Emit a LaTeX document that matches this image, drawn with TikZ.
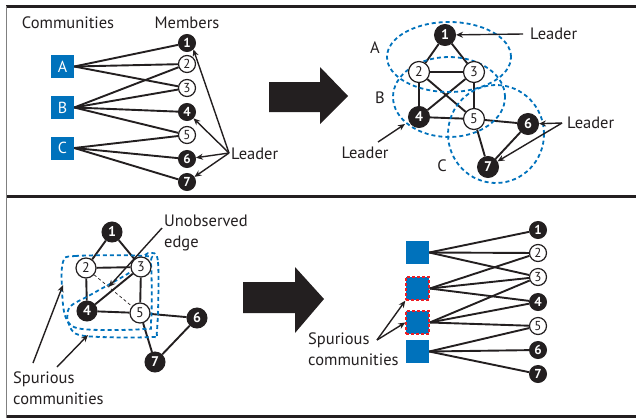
\documentclass[tikz,border=0pt]{standalone}
\usepackage{fontspec}
\setmainfont{PT Sans}
\usetikzlibrary{arrows.meta,calc}
\pgfdeclarelayer{bglayer}
\pgfsetlayers{bglayer,main}
\definecolor{ink}{HTML}{231F20}
\definecolor{cblue}{HTML}{0072BC}
\definecolor{cred}{HTML}{ED1C24}
\begin{document}
\begin{tikzpicture}[x=1pt,y=-1pt,
  lbl/.style={font=\fontsize{16.5}{21}\selectfont, text=ink, inner sep=0pt},
  comm/.style={rectangle, fill=cblue, minimum size=23pt, inner sep=0pt, text=white, font=\fontsize{16}{16}\selectfont},
  spur/.style={comm, draw=cred, line width=1.4pt, dash pattern=on 3pt off 2pt},
  blk/.style={circle, fill=ink, draw=ink, line width=1pt, inner sep=0pt, text=white, font=\bfseries\fontsize{13}{13}\selectfont},
  wht/.style={circle, fill=white, draw=ink, line width=1.2pt, inner sep=0pt, text=ink, font=\fontsize{13}{13}\selectfont},
  smallc/.style={minimum size=17pt},
  bigc/.style={minimum size=21pt, font=\fontsize{14}{14}\selectfont},
  bigcb/.style={minimum size=21pt, font=\bfseries\fontsize{14}{14}\selectfont},
  ln/.style={draw=ink, line width=1.9pt},
  arr/.style={draw=ink, line width=1.4pt, -{Stealth[length=7pt,width=6pt]}},
  ring/.style={draw=cblue, line width=1.8pt, dash pattern=on 4pt off 3pt},
]
\useasboundingbox (0,0) rectangle (636,418);
% frame
\draw[ink, line width=2.5pt] (6,6.5) -- (636,6.5);
\draw[ink, line width=3pt] (6,196) -- (636,196);
\draw[ink, line width=3pt] (6,416.5) -- (636,416.5);
\draw[gray, line width=1pt] (6.5,5.5) -- (6.5,418);

% big arrows
\fill[ink] (269,82) -- (320,82) -- (320,67) -- (348,96) -- (320,124) -- (320,112) -- (269,112) -- cycle;
\fill[ink] (243,282) -- (295,282) -- (295,267) -- (324,299) -- (295,333) -- (295,313) -- (243,313) -- cycle;

% ---------- panel 1 ----------
\node[lbl] (tComm) at (68,23) {Communities};
\node[lbl] (tMem) at (187,23) {Members};
\node[comm] (A) at (62.5,66.5) {A};
\node[comm] (B) at (62.5,107.5) {B};
\node[comm] (C) at (62.5,148) {C};
\node[blk,smallc] (a1) at (187,43) {1};
\node[wht,smallc] (a2) at (187,64) {2};
\node[wht,smallc] (a3) at (187,88) {3};
\node[blk,smallc] (a4) at (187,112) {4};
\node[wht,smallc] (a5) at (187,135) {5};
\node[blk,smallc] (a6) at (187,159) {6};
\node[blk,smallc] (a7) at (187,182) {7};
\begin{pgfonlayer}{bglayer}
\foreach \s/\t in {A/a1,A/a2,A/a3,B/a2,B/a3,B/a4,B/a5,C/a5,C/a6,C/a7}
  \draw[ln] (\s.east) -- (\t);
\end{pgfonlayer}
\node[lbl, anchor=west] (L1) at (231,154) {Leader};
\coordinate (L1s) at (229,153);
\draw[arr] (L1s) -- (a1.-45);
\draw[arr] (L1s) -- (a4);
\draw[arr] (L1s) -- (a6);
\draw[arr] (L1s) -- (a7);

% ---------- panel 2 ----------
\node[blk,bigcb] (b1) at (445,35) {1};
\node[wht,bigc] (b2) at (419,72) {2};
\node[wht,bigc] (b3) at (474,72) {3};
\node[blk,bigcb] (b4) at (419,117) {4};
\node[wht,bigc] (b5) at (474,119) {5};
\node[blk,bigcb] (b6) at (528,124) {6};
\node[blk,bigcb] (b7) at (488,167) {7};
\begin{pgfonlayer}{bglayer}
\foreach \s/\t in {b1/b2,b1/b3,b2/b3,b2/b4,b2/b5,b3/b4,b3/b5,b4/b5,b5/b6,b5/b7,b6/b7}
  \draw[ln] (\s) -- (\t);
\draw[ring] (449,57) ellipse [x radius=62pt, y radius=35pt];
\draw[ring] (449,97) ellipse [x radius=56pt, y radius=40pt];
\draw[ring] (496,134) ellipse [x radius=48pt, y radius=49pt];
\end{pgfonlayer}
\node[lbl] (lA) at (375,48) {A};
\node[lbl] (lB) at (380,98) {B};
\node[lbl] (lC) at (442,166) {C};
\node[lbl, anchor=west] (L2a) at (530,34) {Leader};
\coordinate (L2as) at (523,34);
\draw[arr] (L2as) -- (b1);
\node[lbl] (L2b) at (365,153) {Leader};
\coordinate (L2bs) at (378,142);
\coordinate (L2be) at (405,124);
\draw[arr] (L2bs) -- (L2be);
\node[lbl, anchor=west] (L2c) at (567,123) {Leader};
\coordinate (L2cs) at (562,123);
\draw[arr] (L2cs) -- (b6);
\draw[arr] (L2cs) -- (b7);

% ---------- panel 3 ----------
\node[blk,bigcb,minimum size=20pt] (c1) at (112,232) {1};
\node[wht,bigc,minimum size=20pt] (c2) at (86,268) {2};
\node[wht,bigc,minimum size=20pt] (c3) at (141,267) {3};
\node[blk,bigcb,minimum size=20pt] (c4) at (87,311) {4};
\node[wht,bigc,minimum size=20pt] (c5) at (140,313) {5};
\node[blk,bigcb,minimum size=20pt] (c6) at (197,318) {6};
\node[blk,bigcb,minimum size=20pt] (c7) at (155,362) {7};
\begin{pgfonlayer}{bglayer}
\foreach \s/\t in {c1/c2,c1/c3,c2/c3,c2/c4,c3/c4,c3/c5,c4/c5,c5/c6,c5/c7,c6/c7}
  \draw[ln] (\s) -- (\t);
\draw[draw=ink, line width=0.7pt, dash pattern=on 3pt off 2.5pt] (c2) -- (c5);
\draw[ring] plot[smooth cycle, tension=0.55] coordinates {(63,262) (75,256) (145,256) (151,264) (151,322) (144,329) (82,329) (66,318) (62,290)};
\draw[ring] plot[smooth cycle, tension=0.55] coordinates {(150,253) (158,262) (157,330) (150,337) (85,336) (70,327) (69,308) (92,294) (132,271) (142,258)};
\end{pgfonlayer}
\node[lbl, anchor=west, align=left] (tUn) at (164,233) {Unobserved\\edge};
\coordinate (tUns) at (162,228);
\coordinate (unE) at ($(c2)!0.42!(c5)$);
\draw[arr] (tUns) -- (unE);
\node[lbl, anchor=west, align=left] (tSp1) at (13,388) {Spurious\\communities};
\coordinate (sp1a) at (33,363);
\coordinate (sp1b) at (57,367);
\coordinate (sp1ae) at (63,285);
\coordinate (sp1be) at (88,335);
\draw[arr] (sp1a) -- (sp1ae);
\draw[arr] (sp1b) -- (sp1be);

% ---------- panel 4 ----------
\node[comm] (s1) at (417.5,252.5) {};
\node[spur] (s2) at (417.5,288.5) {};
\node[spur] (s3) at (417.5,322.5) {};
\node[comm] (s4) at (417.5,351.5) {};
\node[blk,smallc] (d1) at (538,230) {1};
\node[wht,smallc] (d2) at (538,253) {2};
\node[wht,smallc] (d3) at (538,277) {3};
\node[blk,smallc] (d4) at (538,302) {4};
\node[wht,smallc] (d5) at (538,326) {5};
\node[blk,smallc] (d6) at (538,350) {6};
\node[blk,smallc] (d7) at (538,374) {7};
\begin{pgfonlayer}{bglayer}
\foreach \s/\t in {s1/d1,s1/d2,s1/d3,s2/d2,s2/d3,s2/d4,s3/d3,s3/d4,s3/d5,s4/d5,s4/d6,s4/d7}
  \draw[ln] (\s.east) -- (\t);
\end{pgfonlayer}
\node[lbl, anchor=west, align=left] (tSp2) at (308,349) {Spurious\\communities};
\coordinate (sp2s) at (377,340);
\draw[arr] (sp2s) -- (s2.south west);
\draw[arr] (sp2s) -- (s3.west);
\end{tikzpicture}
\end{document}
